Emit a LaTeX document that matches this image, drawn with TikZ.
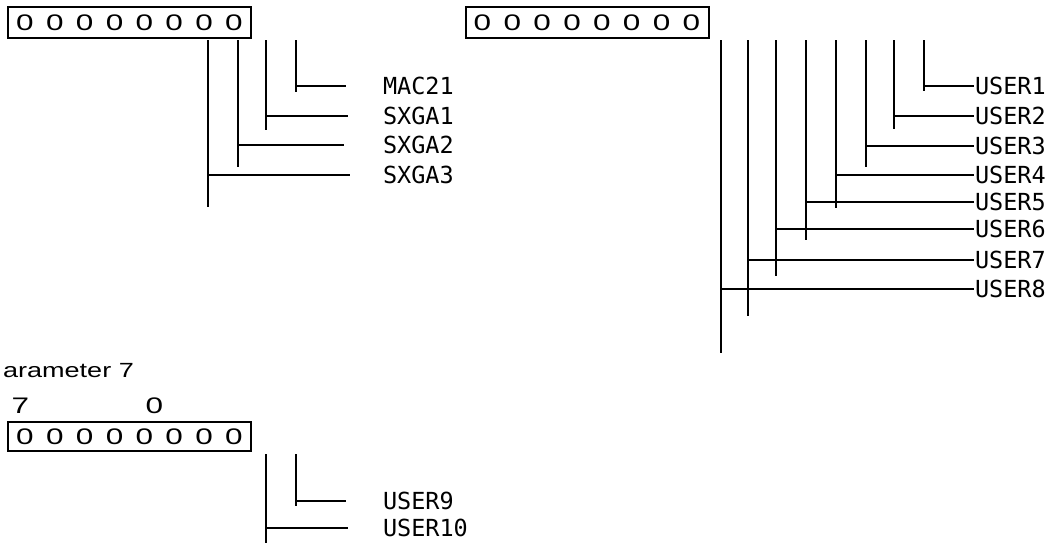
\documentclass[tikz,border=0pt]{standalone}
\usepackage{fontspec}
\setmainfont{Liberation Sans}
\newfontfamily\labfont{DejaVu Sans Mono}
\newfontfamily\digfont[FakeStretch=1.4]{Liberation Sans}
\newfontfamily\capfont[FakeStretch=1.32]{Liberation Sans}
\newcommand\regdigit{\makebox[29.86pt]{0}}
\newcommand\regdigits{\regdigit\regdigit\regdigit\regdigit\regdigit\regdigit\regdigit\regdigit}
\begin{document}
\begin{tikzpicture}[x=1pt,y=-1pt,line width=2pt,
  lab/.style={anchor=west,inner sep=0pt,font=\labfont\fontsize{23.5}{23.5}\selectfont},
  regbox/.style={draw,line width=2pt,minimum width=243pt,minimum height=31pt,inner sep=0pt,
    anchor=north west,font=\digfont\fontsize{22.5}{22.5}\selectfont},
  bitno/.style={anchor=base,inner sep=0pt,font=\digfont\fontsize{22.5}{22.5}\selectfont},
  caption/.style={anchor=base west,inner sep=0pt,font=\capfont\fontsize{20.5}{20.5}\selectfont}]
\useasboundingbox (0,0) rectangle (1047,542);

% ---------- top left register ----------
\node[regbox] (lbox) at (7,6) {\regdigits};
\node[lab] (mac) at (382,86) {MAC21};
\node[lab] (sx1) at (382,116) {SXGA1};
\node[lab] (sx2) at (382,145) {SXGA2};
\node[lab] (sx3) at (382,175) {SXGA3};
\coordinate (lv1) at (296,40); \coordinate (lv1b) at (296,92);
\coordinate (lv2) at (266,40); \coordinate (lv2b) at (266,130);
\coordinate (lv3) at (238,40); \coordinate (lv3b) at (238,167);
\coordinate (lv4) at (208,40); \coordinate (lv4b) at (208,207);
\draw (lv1) -- (lv1b);
\draw (lv2) -- (lv2b);
\draw (lv3) -- (lv3b);
\draw (lv4) -- (lv4b);
\draw (lv1|-mac.west) -- ([xshift=-36pt]mac.west);
\draw (lv2|-sx1.west) -- ([xshift=-34pt]sx1.west);
\draw (lv3|-sx2.west) -- ([xshift=-38pt]sx2.west);
\draw (lv4|-sx3.west) -- ([xshift=-32pt]sx3.west);

% ---------- top right register ----------
\node[regbox] (rbox) at (464.5,6) {\regdigits};
\node[lab] (u1) at (974,86) {USER1};
\node[lab] (u2) at (974,116) {USER2};
\node[lab] (u3) at (974,146) {USER3};
\node[lab] (u4) at (974,175) {USER4};
\node[lab] (u5) at (974,202) {USER5};
\node[lab] (u6) at (974,229) {USER6};
\node[lab] (u7) at (974,260) {USER7};
\node[lab] (u8) at (974,289) {USER8};
\coordinate (rv1) at (924,40); \coordinate (rv1b) at (924,91);
\coordinate (rv2) at (894,40); \coordinate (rv2b) at (894,129);
\coordinate (rv3) at (866,40); \coordinate (rv3b) at (866,167);
\coordinate (rv4) at (836,40); \coordinate (rv4b) at (836,208);
\coordinate (rv5) at (806,40); \coordinate (rv5b) at (806,240);
\coordinate (rv6) at (776,40); \coordinate (rv6b) at (776,276);
\coordinate (rv7) at (748,40); \coordinate (rv7b) at (748,316);
\coordinate (rv8) at (721,40); \coordinate (rv8b) at (721,353);
\foreach \i in {1,...,8} {\draw (rv\i) -- (rv\i b);}
\foreach \i in {1,...,8} {\draw (rv\i|-u\i.west) -- (u\i.west);}

% ---------- parameter 7 ----------
\node[caption] (cap) at (2,377) {arameter 7};
\node[bitno] (b7) at (20.5,413) {7};
\node[bitno] (b0) at (154.5,413) {0};
\node[regbox,minimum height=29pt] (bbox) at (7,421) {\regdigits};
\node[lab] (u9) at (382,501) {USER9};
\node[lab] (u10) at (382,528) {USER10};
\coordinate (bv1) at (296,454); \coordinate (bv1b) at (296,506);
\coordinate (bv2) at (266,454); \coordinate (bv2b) at (266,545);
\draw (bv1) -- (bv1b);
\draw (bv2) -- (bv2b);
\draw (bv1|-u9.west) -- ([xshift=-36pt]u9.west);
\draw (bv2|-u10.west) -- ([xshift=-34pt]u10.west);
\end{tikzpicture}
\end{document}
